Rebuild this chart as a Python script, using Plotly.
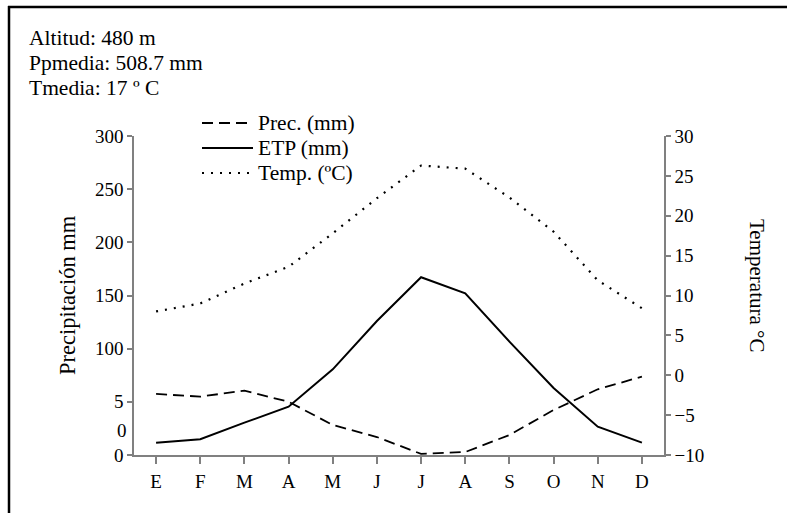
import plotly.graph_objects as go

month_labels = ["E", "F", "M", "A", "M", "J", "J", "A", "S", "O", "N", "D"]
prec = [57.4, 54.9, 60.5, 50.1, 28.2, 16.9, 1.0, 2.8, 18.8, 42.3, 61.8, 73.7]
etp = [11.6, 14.8, 30.4, 45.4, 80.6, 126.0, 167.2, 152.1, 106.6, 63.0, 26.6, 11.6]
temp = [8.0, 9.0, 11.5, 13.6, 17.8, 22.2, 26.3, 25.9, 22.3, 18.0, 11.9, 8.4]

left_tickvals = [0, 50, 100, 150, 200, 250, 300]
left_ticktext = ["0", "5", "100", "150", "200", "250", "300"]
right_tickvals = [-10, -5, 0, 5, 10, 15, 20, 25, 30]

info_lines = ["Altitud: 480 m", "Ppmedia: 508.7 mm", "Tmedia: 17 º C"]
series_names = ["Prec. (mm)", "ETP (mm)", "Temp. (ºC)"]
series_dash = ["11px,6px", "solid", "2px,7px"]
series_width = [1.8, 2, 2.2]

FONT = "Liberation Serif, Times New Roman, serif"
W, H = 787, 513
L, R, T, B = 134, 123, 136, 58
pw, ph = W - L - R, H - T - B

def px(x):
    return (x - L) / pw

def py(y):
    return (H - B - y) / ph

x = list(range(12))

fig = go.Figure()
fig.add_trace(go.Scatter(x=x, y=prec, name=series_names[0], mode="lines",
                         line=dict(color="black", width=series_width[0], dash=series_dash[0])))
fig.add_trace(go.Scatter(x=x, y=etp, name=series_names[1], mode="lines",
                         line=dict(color="black", width=series_width[1], dash=series_dash[1])))
fig.add_trace(go.Scatter(x=x, y=temp, name=series_names[2], mode="lines", yaxis="y2",
                         line=dict(color="black", width=series_width[2], dash=series_dash[2])))

axis_common = dict(showgrid=False, zeroline=False, showline=True, linecolor="#808080",
                   linewidth=1.5, ticks="outside", tickcolor="#808080", tickwidth=1.5,
                   tickfont=dict(family=FONT, size=19, color="black"))

fig.update_layout(
    width=W, height=H,
    margin=dict(l=L, r=R, t=T, b=B),
    paper_bgcolor="white", plot_bgcolor="white",
    font=dict(family=FONT, size=19, color="black"),
    xaxis=dict(tickvals=x, ticktext=month_labels, range=[-0.5, 11.5],
               **axis_common, ticklen=7, ticklabelstandoff=1),
    yaxis=dict(range=[0, 300], tickvals=left_tickvals, ticktext=left_ticktext,
               ticklen=5, **axis_common),
    yaxis2=dict(range=[-10, 30], tickvals=right_tickvals, overlaying="y", side="right",
                ticklen=5, **axis_common),
    showlegend=False,
)

annotations = []
for i, t in enumerate(info_lines):
    annotations.append(dict(text=t, xref="paper", yref="paper", x=px(27), y=py(38 + 25 * i),
                            xanchor="left", yanchor="middle", showarrow=False,
                            font=dict(family=FONT, size=21.5)))
# legend (keys drawn as short line samples + labels)
for i, name in enumerate(series_names):
    yy = py(123 + 25 * i)
    annotations.append(dict(text=name, xref="paper", yref="paper", x=px(256), y=yy,
                            xanchor="left", yanchor="middle", showarrow=False,
                            font=dict(family=FONT, size=21.5)))
    fig.add_shape(type="line", xref="paper", yref="paper", x0=px(202), x1=px(253), y0=yy, y1=yy,
                  line=dict(color="black", width=series_width[i], dash=series_dash[i]))

annotations.append(dict(text="0", xref="paper", yref="paper", x=px(129), y=py(430),
                        xanchor="right", yanchor="middle", showarrow=False,
                        font=dict(family=FONT, size=19)))
annotations.append(dict(text="Precipitación mm", xref="paper", yref="paper", x=px(67), y=py(295),
                        xanchor="center", yanchor="middle", textangle=-90, showarrow=False,
                        font=dict(family=FONT, size=22.5)))
annotations.append(dict(text="Temperatura °C", xref="paper", yref="paper", x=px(757), y=py(285),
                        xanchor="center", yanchor="middle", textangle=90, showarrow=False,
                        font=dict(family=FONT, size=21)))
fig.update_layout(annotations=annotations)

fig.add_shape(type="line", xref="paper", yref="paper", x0=px(8), x1=px(W + 2), y0=py(7), y1=py(7),
              line=dict(color="black", width=2.5))
fig.add_shape(type="line", xref="paper", yref="paper", x0=px(9), x1=px(9), y0=py(6), y1=py(H + 2),
              line=dict(color="black", width=2.5))

fig.write_html("out.html")
